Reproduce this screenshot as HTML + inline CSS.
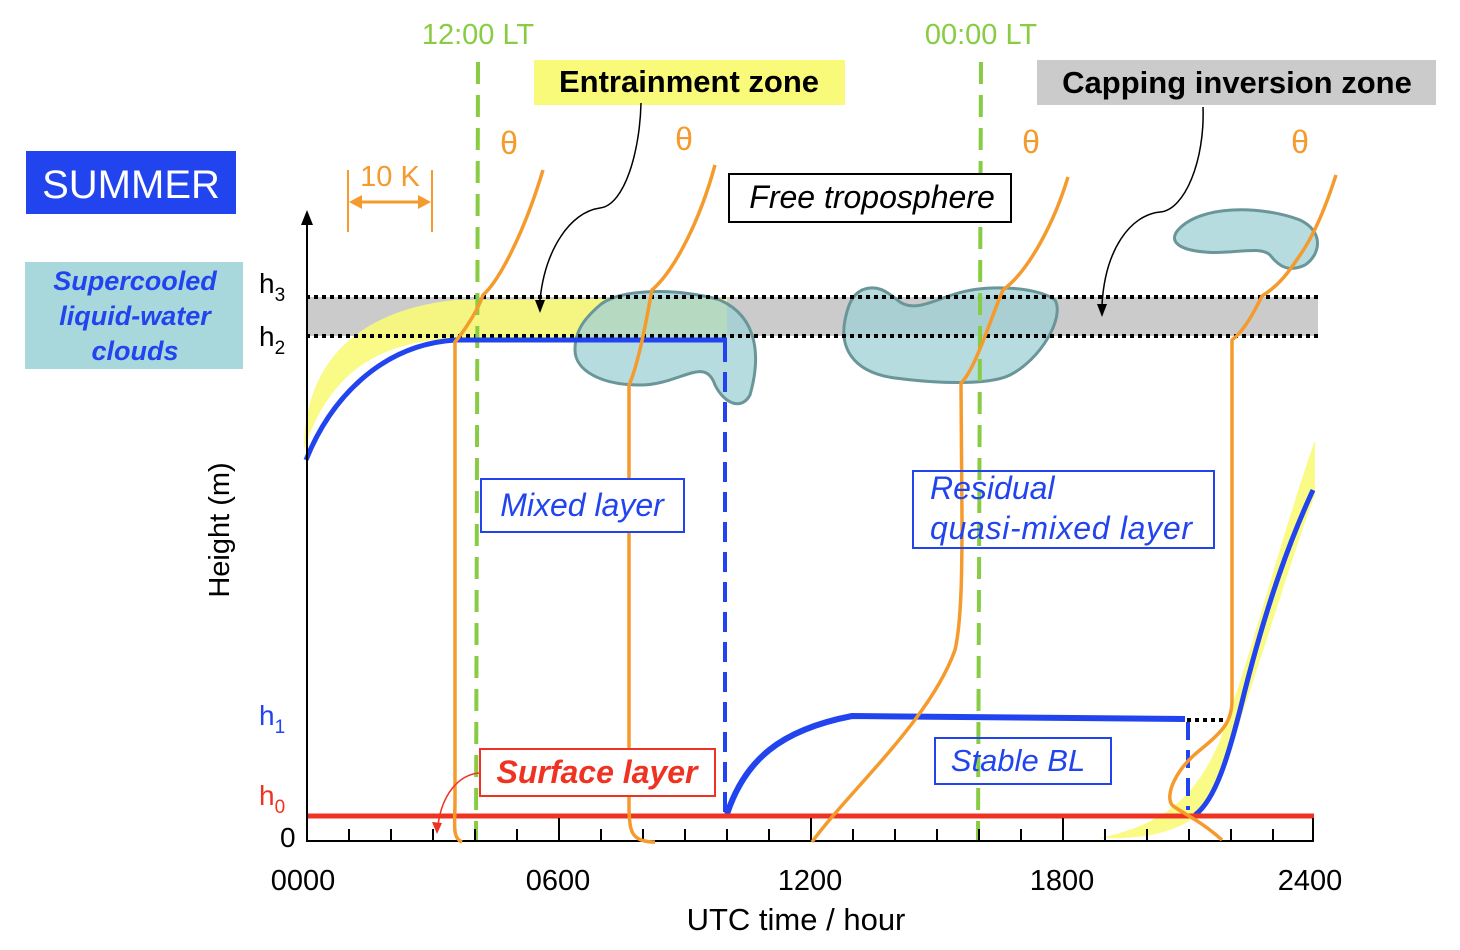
<!DOCTYPE html>
<html><head><meta charset="utf-8"><style>
html,body{margin:0;padding:0;background:#fff;}
svg{display:block;font-family:"Liberation Sans",Arial,sans-serif;}
</style></head><body>
<svg width="1460" height="950" viewBox="0 0 1460 950" xmlns="http://www.w3.org/2000/svg">
<rect x="306" y="297" width="1012" height="39" fill="#cbcbcb"/>
<path d="M304,445 C306,360 360,310 455,300 L727,298 L727,336 L455,338 C380,342 330,370 304,450 Z" fill="#fafa7a" opacity="0.9"/>
<path d="M1100,838 C1160,825 1195,800 1220,740 C1250,660 1280,540 1315,440 L1315,495 C1290,560 1250,700 1215,790 C1200,830 1150,840 1100,838 Z" fill="#fafa7a" opacity="0.9"/>
<g fill="#9fd0d6" fill-opacity="0.75" stroke="#6a9699" stroke-width="3">
<path d="M600,305 C620,288 680,288 720,300 C760,318 760,360 750,395 C742,410 725,405 715,385 C705,355 680,385 640,385 C600,385 575,370 575,350 C575,330 585,318 600,305 Z"/>
<path d="M862,290 C880,283 890,295 900,302 C915,312 935,300 955,294 C990,283 1040,288 1055,300 C1065,318 1040,360 1010,375 C990,385 940,384 895,378 C850,372 840,345 845,320 C848,305 852,295 862,290 Z"/>
<path d="M1178,230 C1200,205 1260,205 1300,220 C1325,232 1320,255 1305,265 C1290,272 1280,268 1270,255 C1260,245 1230,255 1205,252 C1180,250 1168,242 1178,230 Z"/>
</g>
<line x1="306" y1="297" x2="1318" y2="297" stroke="#000" stroke-width="4" stroke-dasharray="4,4"/>
<line x1="306" y1="336" x2="1318" y2="336" stroke="#000" stroke-width="4" stroke-dasharray="4,4"/>
<line x1="478" y1="62" x2="476" y2="840" stroke="#88cc44" stroke-width="4" stroke-dasharray="22,11"/>
<line x1="981" y1="62" x2="978" y2="840" stroke="#88cc44" stroke-width="4" stroke-dasharray="22,11"/>
<path d="M306,460 C330,400 380,345 455,340 L727,340" fill="none" stroke="#2244ee" stroke-width="5"/>
<line x1="725" y1="342" x2="725" y2="812" stroke="#2244ee" stroke-width="4" stroke-dasharray="20,10"/>
<path d="M727,814 C745,760 780,730 852,716 L1185,719" fill="none" stroke="#2244ee" stroke-width="6"/>
<line x1="1187" y1="720" x2="1224" y2="720" stroke="#000" stroke-width="4" stroke-dasharray="4,4"/>
<line x1="1188" y1="722" x2="1188" y2="810" stroke="#2244ee" stroke-width="4" stroke-dasharray="18,10"/>
<path d="M1195,815 C1215,800 1228,760 1245,690 C1268,600 1290,540 1313,490" fill="none" stroke="#2244ee" stroke-width="5"/>
<line x1="306" y1="816" x2="1314" y2="816" stroke="#ee3322" stroke-width="5"/>
<line x1="306" y1="841" x2="1314" y2="841" stroke="#000" stroke-width="2"/>
<line x1="307" y1="842" x2="307" y2="222" stroke="#000" stroke-width="2"/>
<polygon points="307,210 301,225 313,225" fill="#000"/>
<g stroke="#000" stroke-width="2">
<line x1="349" y1="829" x2="349" y2="841"/><line x1="391" y1="829" x2="391" y2="841"/><line x1="433" y1="829" x2="433" y2="841"/><line x1="475" y1="829" x2="475" y2="841"/><line x1="517" y1="829" x2="517" y2="841"/>
<line x1="559" y1="818" x2="559" y2="841"/>
<line x1="601" y1="829" x2="601" y2="841"/><line x1="643" y1="829" x2="643" y2="841"/><line x1="685" y1="829" x2="685" y2="841"/><line x1="727" y1="829" x2="727" y2="841"/><line x1="769" y1="829" x2="769" y2="841"/>
<line x1="811" y1="818" x2="811" y2="841"/>
<line x1="853" y1="829" x2="853" y2="841"/><line x1="895" y1="829" x2="895" y2="841"/><line x1="937" y1="829" x2="937" y2="841"/><line x1="979" y1="829" x2="979" y2="841"/><line x1="1021" y1="829" x2="1021" y2="841"/>
<line x1="1063" y1="818" x2="1063" y2="841"/>
<line x1="1105" y1="829" x2="1105" y2="841"/><line x1="1147" y1="829" x2="1147" y2="841"/><line x1="1189" y1="829" x2="1189" y2="841"/><line x1="1231" y1="829" x2="1231" y2="841"/><line x1="1273" y1="829" x2="1273" y2="841"/>
<line x1="1313" y1="818" x2="1313" y2="841"/>
</g>
<g fill="none" stroke="#f59a2c" stroke-width="3.5">
<path d="M462,842 C452,838 455,825 455,800 L455,342 C465,330 478,310 483,295 C500,280 525,230 543,170"/>
<path d="M655,842 C630,842 630,830 629,810 L629,385 C640,360 648,310 652,290 C675,270 700,220 715,165"/>
<path d="M812,842 C850,790 930,720 955,650 C962,620 962,560 962,520 L961,383 C975,370 990,320 1003,290 C1030,270 1055,220 1068,177"/>
<path d="M1222,840 C1200,820 1180,812 1172,805 C1165,795 1175,770 1200,750 C1225,730 1232,720 1232,700 L1232,340 C1245,330 1255,310 1262,296 C1280,285 1290,270 1298,258 C1315,235 1328,200 1336,175"/>
</g>
<g stroke="#f59a2c" stroke-width="2">
<line x1="348" y1="170" x2="348" y2="232"/><line x1="432" y1="170" x2="432" y2="232"/>
<line x1="358" y1="202" x2="422" y2="202" stroke-width="3"/>
</g>
<polygon points="349,202 362,195 362,209" fill="#f59a2c"/><polygon points="431,202 418,195 418,209" fill="#f59a2c"/>
<text x="390" y="186" font-size="29" fill="#f59a2c" text-anchor="middle">10 K</text>
<g font-size="32" fill="#f59a2c" text-anchor="middle">
<text x="509" y="154">θ</text><text x="684" y="150">θ</text><text x="1031" y="153">θ</text><text x="1300" y="153">θ</text>
</g>
<text x="478" y="44" font-size="29" fill="#88cc44" text-anchor="middle">12:00 LT</text>
<text x="981" y="44" font-size="29" fill="#88cc44" text-anchor="middle">00:00 LT</text>
<rect x="534" y="60" width="311" height="45" fill="#fafa7a"/>
<text x="689" y="92" font-size="31" font-weight="bold" text-anchor="middle">Entrainment zone</text>
<rect x="1037" y="60" width="399" height="45" fill="#cbcbcb"/>
<text x="1237" y="93" font-size="31" font-weight="bold" text-anchor="middle">Capping inversion zone</text>
<path d="M641,103 C640,150 625,205 600,208 C570,212 545,250 540,300" fill="none" stroke="#000" stroke-width="1.5"/>
<polygon points="540,313 535,300 545,300" fill="#000"/>
<path d="M1203,107 C1205,160 1185,210 1160,212 C1130,215 1105,250 1102,305" fill="none" stroke="#000" stroke-width="1.5"/>
<polygon points="1102,317 1097,304 1107,304" fill="#000"/>
<rect x="26" y="151" width="210" height="63" fill="#2244ee"/>
<text x="131" y="198" font-size="40" fill="#fff" text-anchor="middle">SUMMER</text>
<rect x="25" y="262" width="218" height="107" fill="#a8d8dc"/>
<g font-size="27" font-weight="bold" font-style="italic" fill="#2244ee" text-anchor="middle">
<text x="135" y="290">Supercooled</text><text x="135" y="325">liquid-water</text><text x="135" y="360">clouds</text>
</g>
<rect x="729" y="174" width="282" height="48" fill="#fff" stroke="#000" stroke-width="2"/>
<text x="872" y="208" font-size="32" font-style="italic" text-anchor="middle">Free troposphere</text>
<rect x="481" y="479" width="203" height="53" fill="#fff" stroke="#2244ee" stroke-width="2"/>
<text x="582" y="516" font-size="32" font-style="italic" fill="#2244ee" text-anchor="middle">Mixed layer</text>
<rect x="913" y="471" width="301" height="77" fill="none" stroke="#2244ee" stroke-width="2"/>
<text x="930" y="499" font-size="32" font-style="italic" fill="#2244ee">Residual</text>
<text x="930" y="539" font-size="32" font-style="italic" fill="#2244ee" textLength="262">quasi-mixed layer</text>
<rect x="935" y="738" width="176" height="46" fill="none" stroke="#2244ee" stroke-width="2"/>
<text x="1018" y="771" font-size="31" font-style="italic" fill="#2244ee" text-anchor="middle">Stable BL</text>
<rect x="480" y="749" width="235" height="47" fill="#fff" stroke="#ee3322" stroke-width="2"/>
<text x="597" y="783" font-size="32" font-style="italic" font-weight="bold" fill="#ee3322" text-anchor="middle">Surface layer</text>
<path d="M479,773 C458,775 442,795 438,825" fill="none" stroke="#ee3322" stroke-width="1.5"/>
<polygon points="437,834 432,822 442,823" fill="#ee3322"/>
<g font-size="28">
<text x="259" y="293">h<tspan font-size="19" dy="8">3</tspan></text>
<text x="259" y="346">h<tspan font-size="19" dy="8">2</tspan></text>
<text x="259" y="725" fill="#2244ee">h<tspan font-size="19" dy="8">1</tspan></text>
<text x="259" y="805" fill="#ee3322">h<tspan font-size="19" dy="8">0</tspan></text>
<text x="280" y="847">0</text>
</g>
<text transform="translate(229,530) rotate(-90)" font-size="29" text-anchor="middle">Height (m)</text>
<g font-size="29" text-anchor="middle">
<text x="303" y="890">0000</text><text x="558" y="890">0600</text><text x="810" y="890">1200</text><text x="1062" y="890">1800</text><text x="1310" y="890">2400</text>
<text x="796" y="930" font-size="31">UTC time / hour</text>
</g>
</svg>
</body></html>
